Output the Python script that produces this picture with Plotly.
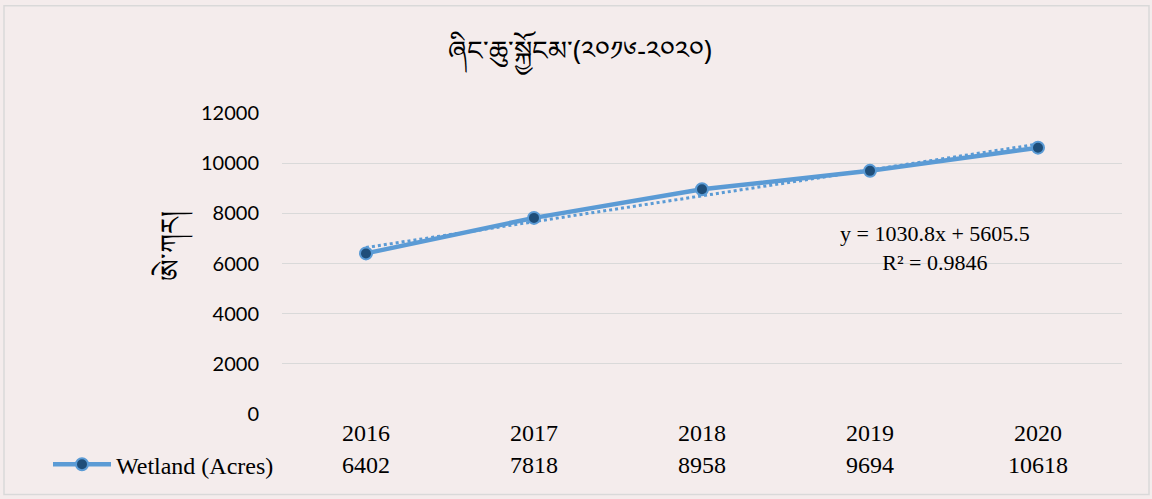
import numpy as np
import plotly.graph_objects as go

years = ["2016", "2017", "2018", "2019", "2020"]
wetland = [6402, 7818, 8958, 9694, 10618]
series_name = "Wetland (Acres)"
title_text = "ཞིང་ཆུ་སྐྱོངམ་(༢༠༡༦-༢༠༢༠)"
ytitle_text = "ཨེ་ཀར།"
eq_text = "y = 1030.8x + 5605.5<br>R² = 0.9846"
y_ticks = [0, 2000, 4000, 6000, 8000, 10000, 12000]

# linear trendline from data
xi = np.arange(1, len(wetland) + 1)
slope, intercept = np.polyfit(xi, wetland, 1)
trend = slope * xi + intercept

W, H = 1152, 499
L, R, T, B = 282, 30, 113, 83
pw, ph = W - L - R, H - T - B

def px_x(p):
    return (p - L) / pw

def px_y(p):
    return (H - B - p) / ph

fig = go.Figure()
fig.add_trace(go.Scatter(
    x=years, y=trend, mode="lines", showlegend=False,
    line=dict(color="#5b9bd5", width=3, dash="dot"), hoverinfo="skip"))
fig.add_trace(go.Scatter(
    x=years, y=wetland, mode="lines+markers", name=series_name,
    line=dict(color="#5b9bd5", width=4.5),
    marker=dict(size=12, color="#1f4e79", line=dict(color="#5b9bd5", width=2))))

ann = []
for i, v in enumerate(wetland):
    ann.append(dict(x=i, xref="x", y=px_y(467), yref="paper", text=str(v),
                    xanchor="center", yanchor="middle",
                    showarrow=False, font=dict(family="Liberation Serif", size=24, color="#000")))
ann.append(dict(x=px_x(935), xref="paper", y=px_y(249), yref="paper", text=eq_text,
                xanchor="center", yanchor="middle",
                showarrow=False, align="center",
                font=dict(family="Liberation Serif", size=22, color="#000")))
ann.append(dict(x=px_x(172), xref="paper", y=px_y(247), yref="paper", text=ytitle_text,
                xanchor="center", yanchor="middle",
                textangle=-90, showarrow=False,
                font=dict(family="Noto Sans", size=27, color="#000")))

fig.update_layout(
    width=W, height=H,
    margin=dict(l=L, r=R, t=T, b=B),
    paper_bgcolor="#f4ecec", plot_bgcolor="#f4ecec",
    title=dict(text=title_text, x=580 / W, xanchor="center", y=1 - 51 / H, yanchor="middle",
               font=dict(family="Noto Sans", size=27, color="#000")),
    xaxis=dict(type="category", range=[-0.5, 4.5], showgrid=False, showline=False,
               zeroline=False, ticks="", ticklabelstandoff=2,
               tickfont=dict(family="Liberation Serif", size=24, color="#000")),
    yaxis=dict(range=[0, 12000], tickvals=y_ticks, tickformat="d", showgrid=True,
               gridcolor="#d9d9d9", gridwidth=1, zeroline=False, showline=False, ticks="",
               ticklabelstandoff=22,
               tickfont=dict(family="Lato", size=20, color="#000")),
    legend=dict(x=px_x(48), y=px_y(467), xanchor="left", yanchor="middle",
                xref="paper", yref="paper", bgcolor="rgba(0,0,0,0)", itemwidth=58,
                font=dict(family="Liberation Serif", size=24, color="#000")),
    annotations=ann,
    shapes=[dict(type="rect", xref="paper", yref="paper",
                 x0=px_x(4), x1=px_x(1149), y0=px_y(497), y1=px_y(5),
                 line=dict(color="#d9d9d9", width=1.5), layer="below")],
    showlegend=True,
)

fig.write_html("out.html", config={"displayModeBar": False},
               post_script="document.body.style.margin='0';")
